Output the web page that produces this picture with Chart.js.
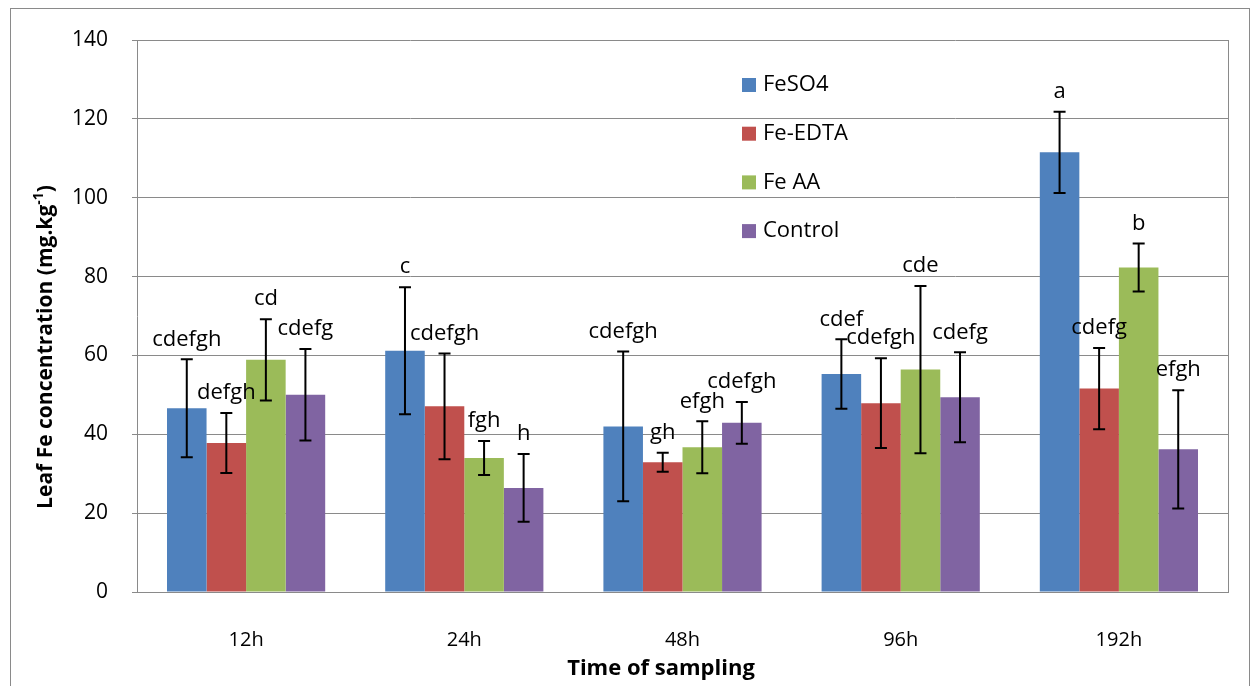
<!DOCTYPE html>
<html>
<head>
<meta charset="utf-8">
<script src="https://cdn.jsdelivr.net/npm/chart.js@4.4.1/dist/chart.umd.min.js"></script>
<style>
  html, body { margin: 0; padding: 0; background: #fff; }
  #wrap { width: 1258px; height: 686px; }
</style>
</head>
<body>
<div id="wrap"><canvas id="feChart" width="1258" height="686"></canvas></div>
<script>
// sampling times
var times = ['12h', '24h', '48h', '96h', '192h'];

// mean leaf Fe (mg/kg) and error for each treatment
var feso4 = [46.6, 61.2, 42.0, 55.3, 111.5];
var feso4Err = [12.4, 16.1, 19.0, 8.8, 10.3];
var feEdta = [37.8, 47.1, 32.9, 47.9, 51.6];
var feEdtaErr = [7.6, 13.4, 2.4, 11.4, 10.3];
var feAA = [58.9, 34.0, 36.7, 56.4, 82.3];
var feAAErr = [10.3, 4.3, 6.6, 21.2, 6.1];
var control = [50.0, 26.4, 42.9, 49.4, 36.2];
var controlErr = [11.6, 8.6, 5.3, 11.4, 15.0];

// significance letters
var feso4Letters = ['cdefgh', 'c', 'cdefgh', 'cdef', 'a'];
var feEdtaLetters = ['defgh', 'cdefgh', 'gh', 'cdefgh', 'cdefg'];
var feAALetters = ['cd', 'fgh', 'efgh', 'cde', 'b'];
var controlLetters = ['cdefg', 'h', 'cdefgh', 'cdefg', 'efgh'];

var yTicks = [0, 20, 40, 60, 80, 100, 120, 140];

var FONT = '"Open Sans", "DejaVu Sans", sans-serif';
var GRID = '#8a8a8a';

function series(label, data, err, letters, color) {
    return {
        label: label,
        data: data,
        err: err,
        letters: letters,
        backgroundColor: color,
        borderWidth: 0
    };
}

// error bars + letters above them
var errorBars = {
    id: 'errorBars',
    afterDatasetsDraw: function(chart) {
        var ctx = chart.ctx;
        var y = chart.scales.y;
        ctx.save();
        chart.data.datasets.forEach(function(ds, i) {
            var meta = chart.getDatasetMeta(i);
            meta.data.forEach(function(bar, j) {
                var v = ds.data[j], e = ds.err[j];
                var top = y.getPixelForValue(v + e);
                var bot = y.getPixelForValue(v - e);
                ctx.strokeStyle = '#000';
                ctx.lineWidth = 2;
                ctx.beginPath();
                ctx.moveTo(bar.x, top); ctx.lineTo(bar.x, bot);
                ctx.moveTo(bar.x - 6, top); ctx.lineTo(bar.x + 6, top);
                ctx.moveTo(bar.x - 6, bot); ctx.lineTo(bar.x + 6, bot);
                ctx.stroke();

                ctx.fillStyle = '#000';
                ctx.font = '22px ' + FONT;
                ctx.textAlign = 'center';
                ctx.textBaseline = 'middle';
                ctx.fillText(ds.letters[j], bar.x, top - 20);
            });
        });
        ctx.restore();
    }
};

// frame, axis titles and legend
var decorations = {
    id: 'decorations',
    afterDraw: function(chart) {
        var ctx = chart.ctx;
        var a = chart.chartArea;
        ctx.save();

        ctx.strokeStyle = GRID;
        ctx.lineWidth = 1;
        ctx.strokeRect(10.5, 8.5, 1239, 700);
        ctx.beginPath();
        ctx.moveTo(a.right + 0.5, a.top);
        ctx.lineTo(a.right + 0.5, a.bottom);
        ctx.stroke();

        ctx.fillStyle = '#000';
        ctx.font = 'bold 22px ' + FONT;
        ctx.textAlign = 'center';
        ctx.textBaseline = 'middle';
        ctx.fillText('Time of sampling', 661, 669);

        // rotated y title with superscript
        ctx.translate(46, 347);
        ctx.rotate(-Math.PI / 2);
        var main = 'Leaf Fe concentration (mg.kg';
        var sup = '-1';
        var tail = ')';
        ctx.font = 'bold 21px ' + FONT;
        var w1 = ctx.measureText(main).width;
        var w3 = ctx.measureText(tail).width;
        ctx.font = 'bold 14px ' + FONT;
        var w2 = ctx.measureText(sup).width;
        var x0 = -(w1 + w2 + w3) / 2;
        ctx.textAlign = 'left';
        ctx.font = 'bold 21px ' + FONT;
        ctx.fillText(main, x0, 0);
        ctx.font = 'bold 14px ' + FONT;
        ctx.fillText(sup, x0 + w1, -7);
        ctx.font = 'bold 21px ' + FONT;
        ctx.fillText(tail, x0 + w1 + w2, 0);
        ctx.setTransform(1, 0, 0, 1, 0, 0);

        // legend
        ctx.font = '22px ' + FONT;
        ctx.textAlign = 'left';
        ctx.textBaseline = 'middle';
        chart.data.datasets.forEach(function(ds, i) {
            var ly = 85 + i * 48.7;
            ctx.fillStyle = ds.backgroundColor;
            ctx.fillRect(742, ly - 7, 14, 14);
            ctx.fillStyle = '#000';
            ctx.fillText(ds.label, 763, ly);
        });
        ctx.restore();
    }
};

new Chart(document.getElementById('feChart'), {
    type: 'bar',
    data: {
        labels: times,
        datasets: [
            series('FeSO4', feso4, feso4Err, feso4Letters, '#4F81BD'),
            series('Fe-EDTA', feEdta, feEdtaErr, feEdtaLetters, '#C0504D'),
            series('Fe AA', feAA, feAAErr, feAALetters, '#9BBB59'),
            series('Control', control, controlErr, controlLetters, '#8064A2')
        ]
    },
    options: {
        responsive: false,
        animation: false,
        layout: { padding: { left: 0, top: 40, right: 30, bottom: 0 } },
        datasets: { bar: { categoryPercentage: 0.725, barPercentage: 1.0 } },
        plugins: {
            legend: { display: false },
            tooltip: { enabled: false }
        },
        scales: {
            x: {
                afterFit: function(s) { s.height = 94; },
                grid: { display: false },
                border: { color: GRID, width: 1 },
                ticks: { color: '#000', font: { family: FONT, size: 20 }, padding: 28 }
            },
            y: {
                min: 0,
                max: 140,
                afterFit: function(s) { s.width = 137; },
                afterBuildTicks: function(s) {
                    s.ticks = yTicks.map(function(v) { return { value: v }; });
                },
                grid: { color: GRID, lineWidth: 1, tickLength: 5 },
                border: { color: GRID, width: 1 },
                ticks: { color: '#000', font: { family: FONT, size: 21 }, padding: 24 }
            }
        }
    },
    plugins: [errorBars, decorations]
});
</script>
</body>
</html>
